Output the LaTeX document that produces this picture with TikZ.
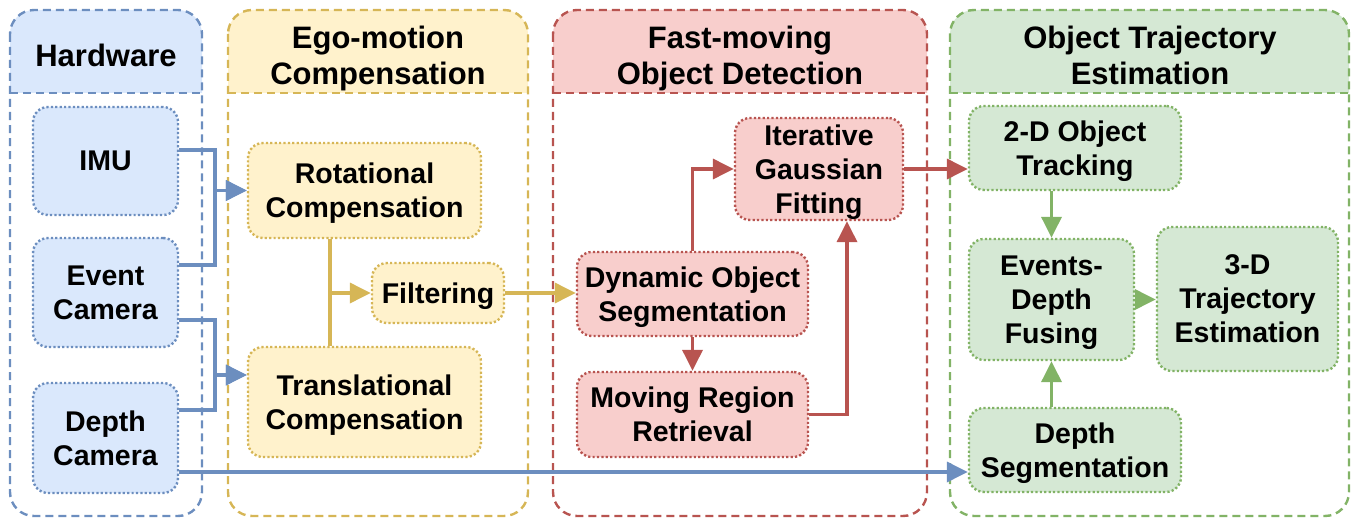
\documentclass[tikz,border=0pt]{standalone}
\usepackage{fontspec}
\setmainfont{Liberation Sans}
\usetikzlibrary{arrows.meta,calc}
\definecolor{bF}{HTML}{DAE8FC}\definecolor{bS}{HTML}{6C8EBF}
\definecolor{yF}{HTML}{FFF2CC}\definecolor{yS}{HTML}{D6B656}
\definecolor{rF}{HTML}{F8CECC}\definecolor{rS}{HTML}{B85450}
\definecolor{gF}{HTML}{D5E8D4}\definecolor{gS}{HTML}{82B366}
\tikzset{
  lanebox/.style={line width=2.4pt, dash pattern=on 8pt off 5pt, rounded corners=24pt},
  laneline/.style={line width=2.4pt, dash pattern=on 8pt off 5pt},
  lanetitle/.style={align=center, font=\fontsize{31}{36}\selectfont\bfseries, inner sep=0pt, text depth=0pt},
  stepbox/.style={rounded corners=15pt, line width=2.4pt, dash pattern=on 2.2pt off 2.2pt,
    align=center, font=\fontsize{28.5}{34}\selectfont\bfseries, inner sep=0pt, text depth=0pt},
  arr/.style={line width=3.5pt, -{Triangle[length=21pt,width=20pt]}},
  plain/.style={line width=3.5pt}
}
\begin{document}
\begin{tikzpicture}[x=1pt,y=-1pt]
\useasboundingbox (0,0) rectangle (1353,519);
% lanes
\foreach \xa/\xb/\cf/\cs in {10/202/bF/bS, 228/528/yF/yS, 553/927/rF/rS, 950/1349/gF/gS}{
  \fill[\cf] (\xa,93) [rounded corners=24pt] -- (\xa,10) -- (\xb,10) [sharp corners] -- (\xb,93) -- cycle;
  \draw[\cs, lanebox] (\xa,10) rectangle (\xb,516);
  \draw[\cs, laneline] (\xa,93) -- (\xb,93);
}
\node[lanetitle] (t1) at (106,55) {Hardware};
\node[lanetitle] (t2) at (378,55) {Ego-motion\\Compensation};
\node[lanetitle] (t3) at (740,55) {Fast-moving\\Object Detection};
\node[lanetitle] (t4) at (1150,55) {Object Trajectory\\Estimation};
% hardware nodes
\node[stepbox, draw=bS, fill=bF, minimum width=145pt, minimum height=108pt] (imu) at (105.5,161) {IMU};
\node[stepbox, draw=bS, fill=bF, minimum width=145pt, minimum height=109pt] (ev) at (105.5,292.5) {Event\\Camera};
\node[stepbox, draw=bS, fill=bF, minimum width=145pt, minimum height=110pt] (dep) at (105.5,438) {Depth\\Camera};
% ego-motion nodes
\node[stepbox, draw=yS, fill=yF, minimum width=233pt, minimum height=95pt] (rot) at (364.5,190.5) {Rotational\\Compensation};
\node[stepbox, draw=yS, fill=yF, minimum width=233pt, minimum height=110pt] (trans) at (364.5,402) {Translational\\Compensation};
\node[stepbox, draw=yS, fill=yF, minimum width=132pt, minimum height=60pt] (filt) at (438,293) {Filtering};
% detection nodes
\node[stepbox, draw=rS, fill=rF, minimum width=231pt, minimum height=84pt] (dos) at (692.5,294) {Dynamic Object\\Segmentation};
\node[stepbox, draw=rS, fill=rF, minimum width=231pt, minimum height=85pt] (mrr) at (692.5,414.5) {Moving Region\\Retrieval};
\node[stepbox, draw=rS, fill=rF, minimum width=168pt, minimum height=102pt] (igf) at (819,169) {Iterative\\Gaussian\\Fitting};
% trajectory nodes
\node[stepbox, draw=gS, fill=gF, minimum width=212pt, minimum height=84pt] (trk) at (1075,148) {2-D Object\\Tracking};
\node[stepbox, draw=gS, fill=gF, minimum width=165pt, minimum height=121pt] (edf) at (1051.5,299.5) {Events-\\Depth\\Fusing};
\node[stepbox, draw=gS, fill=gF, minimum width=181pt, minimum height=144pt] (traj) at (1247.5,299) {3-D\\Trajectory\\Estimation};
\node[stepbox, draw=gS, fill=gF, minimum width=212pt, minimum height=84pt] (dseg) at (1075,450) {Depth\\Segmentation};
% junction coordinates
\coordinate (j1) at (215,190.5);
\coordinate (j2) at (215,375);
\coordinate (jf) at (330,293);
\coordinate (jm) at (847,0);
% hardware connectors
\draw[arr, bS] ([yshift=11pt]imu.east) -| (j1) -- (rot.west);
\draw[arr, bS] ([yshift=27.5pt]ev.east) -| (j1) -- (rot.west);
\draw[arr, bS] ([yshift=-27.5pt]ev.east) -| (j2) -- (j2 -| trans.west);
\draw[arr, bS] ([yshift=28pt]dep.east) -| (j2) -- (j2 -| trans.west);
\draw[arr, bS] ([yshift=-34pt]dep.east) coordinate (dq) -- (dq -| dseg.west);
% ego-motion connectors
\draw[plain, yS] (rot.south -| jf) -- (trans.north -| jf);
\draw[arr, yS] (jf) -- (filt.west);
\draw[arr, yS] (filt.east) -- (filt.east -| dos.west);
% detection connectors
\draw[arr, rS] (dos.south) -- (mrr.north);
\draw[arr, rS] (dos.north) |- (igf.west);
\draw[arr, rS] (mrr.east) -| (jm |- igf.south);
\draw[arr, rS] (igf.east) -- (igf.east -| trk.west);
% trajectory connectors
\draw[arr, gS] (trk.south -| edf.north) -- (edf.north);
\draw[arr, gS] (dseg.north -| edf.south) -- (edf.south);
\draw[arr, gS] (edf.east) -- (edf.east -| traj.west);
\end{tikzpicture}
\end{document}
